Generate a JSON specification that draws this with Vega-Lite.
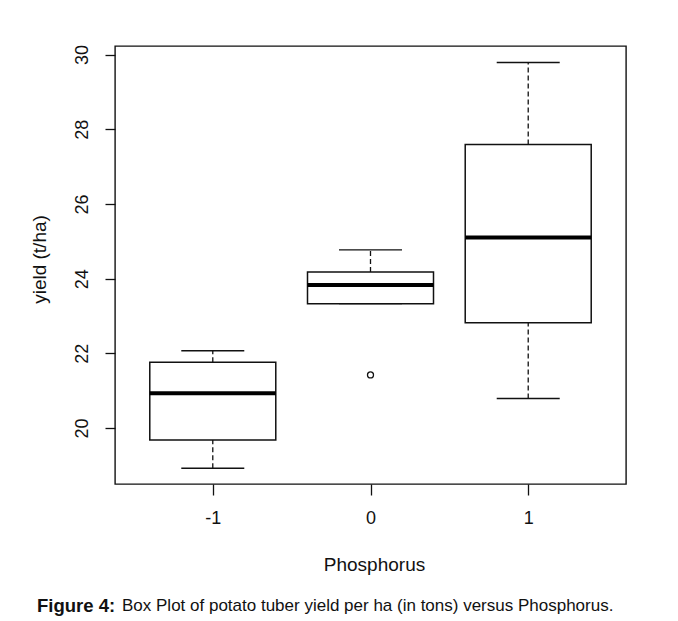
{
  "$schema": "https://vega.github.io/schema/vega-lite/v6.json",
  "width": 511,
  "height": 438,
  "autosize": "none",
  "padding": {"left": 115, "top": 46, "right": 52, "bottom": 137},
  "background": "white",
  "config": {
    "font": "Liberation Sans",
    "view": {"stroke": "#111", "strokeWidth": 1.4}
  },
  "title": {
    "text": "Figure 4:",
    "subtitle": "\u200b\u00a0\u00a0\u00a0\u00a0\u00a0\u00a0\u00a0\u00a0\u00a0\u00a0\u00a0\u00a0\u00a0\u00a0\u00a0\u00a0\u00a0\u00a0Box Plot of potato tuber yield per ha (in tons) versus Phosphorus.",
    "orient": "bottom",
    "anchor": "start",
    "frame": "group",
    "dx": -78,
    "offset": 23,
    "font": "Liberation Sans",
    "fontSize": 18.5,
    "fontWeight": "bold",
    "color": "#111",
    "subtitleFont": "Liberation Sans",
    "subtitleFontSize": 17,
    "subtitleFontWeight": "normal",
    "subtitleColor": "#111",
    "subtitlePadding": -18
  },
  "datasets": {
    "boxes": [
      {"phosphorus": "-1", "lower": 18.92, "q1": 19.68, "median": 20.93, "q3": 21.76, "upper": 22.07},
      {"phosphorus": "0", "lower": 23.33, "q1": 23.33, "median": 23.83, "q3": 24.18, "upper": 24.77},
      {"phosphorus": "1", "lower": 20.79, "q1": 22.82, "median": 25.1, "q3": 27.59, "upper": 29.79}
    ],
    "outliers": [
      {"phosphorus": "0", "yield": 21.42}
    ]
  },
  "encoding": {
    "x": {
      "field": "phosphorus",
      "type": "ordinal",
      "sort": ["-1", "0", "1"],
      "scale": {"type": "point", "domain": ["-1", "0", "1"], "padding": 0.62},
      "axis": {
        "title": "Phosphorus",
        "domain": false,
        "grid": false,
        "ticks": true,
        "tickSize": 11,
        "tickColor": "#111",
        "tickWidth": 1.3,
        "labelAngle": 0,
        "labelFont": "Liberation Sans",
        "labelFontSize": 18,
        "labelColor": "#111",
        "labelBaseline": "alphabetic",
        "labelPadding": 28,
        "titleFont": "Liberation Sans",
        "titleFontSize": 19,
        "titleFontWeight": "normal",
        "titleColor": "#111",
        "titleBaseline": "alphabetic",
        "titleAlign": "center",
        "titleX": 259,
        "titleY": 86
      }
    }
  },
  "layer": [
    {
      "data": {"name": "boxes"},
      "mark": {"type": "rule", "stroke": "#111", "strokeWidth": 1.3, "strokeDash": [5, 3]},
      "encoding": {
        "y": {
          "field": "q3",
          "type": "quantitative",
          "scale": {"domain": [18.5, 30.23], "nice": false, "zero": false},
          "axis": {
            "title": "yield (t/ha)",
            "values": [20, 22, 24, 26, 28, 30],
            "domain": false,
            "grid": false,
            "tickSize": 10,
            "tickColor": "#111",
            "tickWidth": 1.3,
            "labelAngle": -90,
            "labelAlign": "center",
            "labelBaseline": "alphabetic",
            "labelPadding": 18,
            "labelFont": "Liberation Sans",
            "labelFontSize": 18,
            "labelColor": "#111",
            "titleFont": "Liberation Sans",
            "titleFontSize": 19,
            "titleFontWeight": "normal",
            "titleColor": "#111",
            "titleAngle": -90,
            "titleAlign": "center",
            "titleBaseline": "alphabetic",
            "titleX": -70,
            "titleY": 213
          }
        },
        "y2": {"field": "upper"}
      }
    },
    {
      "data": {"name": "boxes"},
      "mark": {"type": "rule", "stroke": "#111", "strokeWidth": 1.3, "strokeDash": [5, 3]},
      "encoding": {
        "y": {"field": "lower", "type": "quantitative"},
        "y2": {"field": "q1"}
      }
    },
    {
      "data": {"name": "boxes"},
      "mark": {"type": "bar", "width": 126, "fill": "white", "stroke": "#111", "strokeWidth": 1.5},
      "encoding": {
        "y": {"field": "q1", "type": "quantitative"},
        "y2": {"field": "q3"}
      }
    },
    {
      "data": {"name": "boxes"},
      "mark": {"type": "tick", "orient": "horizontal", "size": 126, "thickness": 4, "color": "#000", "opacity": 1},
      "encoding": {
        "y": {"field": "median", "type": "quantitative"}
      }
    },
    {
      "data": {"name": "boxes"},
      "mark": {"type": "tick", "orient": "horizontal", "size": 63, "thickness": 1.4, "color": "#111", "opacity": 1},
      "encoding": {
        "y": {"field": "upper", "type": "quantitative"}
      }
    },
    {
      "data": {"name": "boxes"},
      "mark": {"type": "tick", "orient": "horizontal", "size": 63, "thickness": 1.4, "color": "#111", "opacity": 1},
      "encoding": {
        "y": {"field": "lower", "type": "quantitative"}
      }
    },
    {
      "data": {"name": "outliers"},
      "mark": {"type": "point", "shape": "circle", "filled": false, "size": 36, "stroke": "#111", "strokeWidth": 1.3, "opacity": 1},
      "encoding": {
        "y": {"field": "yield", "type": "quantitative"}
      }
    }
  ]
}
